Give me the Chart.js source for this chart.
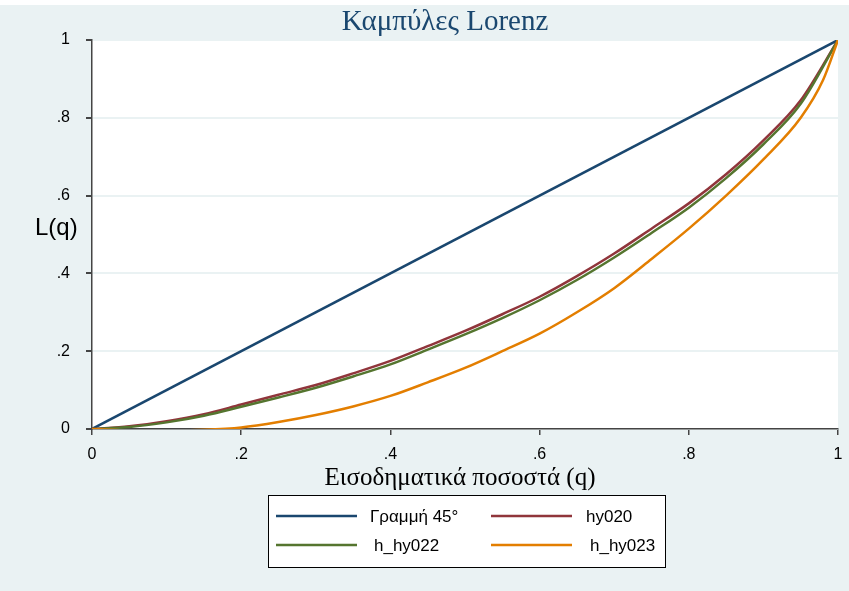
<!DOCTYPE html>
<html>
<head>
<meta charset="utf-8">
<script src="https://cdn.jsdelivr.net/npm/chart.js@4.4.1/dist/chart.umd.min.js"></script>
<style>
  html, body { margin: 0; padding: 0; background: #EAF2F3; }
  #wrap { position: relative; width: 849px; height: 591px; }
  canvas { display: block; }
</style>
</head>
<body>
<div id="wrap"><canvas id="c" width="849" height="591"></canvas></div>
<script>
// ---- data ----
const chartTitle = 'Καμπύλες Lorenz';
const xTitle = 'Εισοδηματικά ποσοστά (q)';
const yTitle = 'L(q)';
const xTickLabels = ['0', '.2', '.4', '.6', '.8', '1'];
const yTickLabels = ['0', '.2', '.4', '.6', '.8', '1'];
const seriesNames = ['Γραμμή 45°', 'hy020', 'h_hy022', 'h_hy023'];

const qLine45 = [0, 1];
const line45 = [0, 1];

const q = [0, 0.05, 0.10, 0.15, 0.20, 0.25, 0.30, 0.35, 0.40, 0.45, 0.50,
           0.55, 0.60, 0.65, 0.70, 0.75, 0.80, 0.85, 0.90, 0.95, 1.00];
const hy020 = [0, 0.007, 0.020, 0.038, 0.063, 0.088, 0.113, 0.143, 0.175, 0.213, 0.252,
               0.295, 0.340, 0.393, 0.451, 0.515, 0.580, 0.655, 0.742, 0.845, 1.000];
const h_hy022 = [0, 0.005, 0.017, 0.034, 0.057, 0.081, 0.106, 0.135, 0.166, 0.204, 0.243,
                 0.285, 0.331, 0.383, 0.441, 0.504, 0.569, 0.645, 0.732, 0.836, 1.000];

const q23 = [0, 0.025, 0.05, 0.10, 0.15, 0.20, 0.25, 0.30, 0.35, 0.40, 0.45, 0.50,
             0.55, 0.60, 0.65, 0.70, 0.75, 0.80, 0.85, 0.90, 0.95, 0.98, 1.00];
const h_hy023 = [0, -0.002, -0.004, -0.004, -0.002, 0.004, 0.018, 0.036, 0.058, 0.085, 0.120, 0.157,
                 0.200, 0.245, 0.300, 0.362, 0.437, 0.515, 0.600, 0.693, 0.800, 0.897, 1.000];

const colors = ['#1a476f', '#90353b', '#55752f', '#e37e00'];

function pts(xs, ys) { return xs.map((x, i) => ({ x: x, y: ys[i] })); }

const SANS = "'Liberation Sans', Arial, sans-serif";
const SERIF = "'Liberation Serif', 'Times New Roman', serif";

const decor = {
  id: 'decor',
  beforeDraw(chart) {
    const { ctx, chartArea: a } = chart;
    ctx.save();
    ctx.fillStyle = '#ffffff';
    ctx.fillRect(0, 0, chart.width, 5);
    ctx.fillRect(a.left, a.top, a.right - a.left, a.bottom - a.top);
    ctx.restore();
  },
  afterDraw(chart) {
    const { ctx } = chart;
    ctx.save();
    // title
    ctx.fillStyle = '#1a476f';
    ctx.font = '29px ' + SERIF;
    ctx.textAlign = 'center';
    ctx.textBaseline = 'alphabetic';
    ctx.fillText(chartTitle, 445, 30);
    // x title
    ctx.fillStyle = '#000';
    ctx.font = '25px ' + SERIF;
    ctx.fillText(xTitle, 460, 485);
    // y title
    ctx.font = '24px ' + SANS;
    ctx.textAlign = 'left';
    ctx.fillText(yTitle, 35, 235);
    // legend
    const lx = 268, ly = 495, lw = 397, lh = 72;
    ctx.fillStyle = '#fff';
    ctx.fillRect(lx, ly, lw, lh);
    ctx.strokeStyle = '#000';
    ctx.lineWidth = 1;
    ctx.strokeRect(lx + 0.5, ly + 0.5, lw, lh);
    const items = [
      { lx0: 276, lx1: 357, tx: 370, y: 516 },
      { lx0: 491, lx1: 572, tx: 586, y: 516 },
      { lx0: 276, lx1: 357, tx: 374, y: 545 },
      { lx0: 491, lx1: 572, tx: 590, y: 545 }
    ];
    ctx.font = '17px ' + SANS;
    ctx.textBaseline = 'middle';
    ctx.textAlign = 'left';
    items.forEach((it, i) => {
      ctx.strokeStyle = colors[i];
      ctx.lineWidth = 2.5;
      ctx.beginPath();
      ctx.moveTo(it.lx0, it.y);
      ctx.lineTo(it.lx1, it.y);
      ctx.stroke();
      ctx.fillStyle = '#000';
      ctx.fillText(seriesNames[i], it.tx, it.y + 1);
    });
    ctx.restore();
  }
};

const mk = (label, data, color) => ({
  label: label, data: data, borderColor: color, backgroundColor: color,
  borderWidth: 2.5, pointRadius: 0, fill: false, cubicInterpolationMode: 'monotone'
});

new Chart(document.getElementById('c'), {
  type: 'line',
  data: {
    datasets: [
      mk(seriesNames[3], pts(q23, h_hy023), colors[3]),
      mk(seriesNames[2], pts(q, h_hy022), colors[2]),
      mk(seriesNames[1], pts(q, hy020), colors[1]),
      mk(seriesNames[0], pts(qLine45, line45), colors[0])
    ]
  },
  options: {
    responsive: false,
    animation: false,
    layout: { padding: { left: 0, right: 11, top: 40, bottom: 132 } },
    plugins: { legend: { display: false }, title: { display: false }, tooltip: { enabled: false } },
    scales: {
      x: {
        type: 'linear', min: 0, max: 1,
        afterFit(s) { s.height = 30; s.paddingLeft = 0; s.paddingRight = 0; },
        border: { display: true, color: '#444', width: 1.5 },
        grid: { display: true, drawOnChartArea: false, drawTicks: true, tickLength: 6, tickColor: '#444', lineWidth: 1.5 },
        ticks: {
          stepSize: 0.2, color: '#000', font: { family: SANS, size: 16 }, padding: 10, maxRotation: 0,
          callback: (v, i) => xTickLabels[i]
        }
      },
      y: {
        type: 'linear', min: 0, max: 1,
        afterFit(s) { s.width = 92; s.paddingTop = 0; s.paddingBottom = 0; },
        border: { display: true, color: '#444', width: 1.5 },
        grid: { display: true, color: '#EAF2F3', lineWidth: 2, drawTicks: true, tickLength: 6, tickColor: '#444' },
        ticks: {
          stepSize: 0.2, color: '#000', font: { family: SANS, size: 16 }, padding: 16,
          callback: (v, i) => yTickLabels[i]
        }
      }
    }
  },
  plugins: [decor]
});
</script>
</body>
</html>
